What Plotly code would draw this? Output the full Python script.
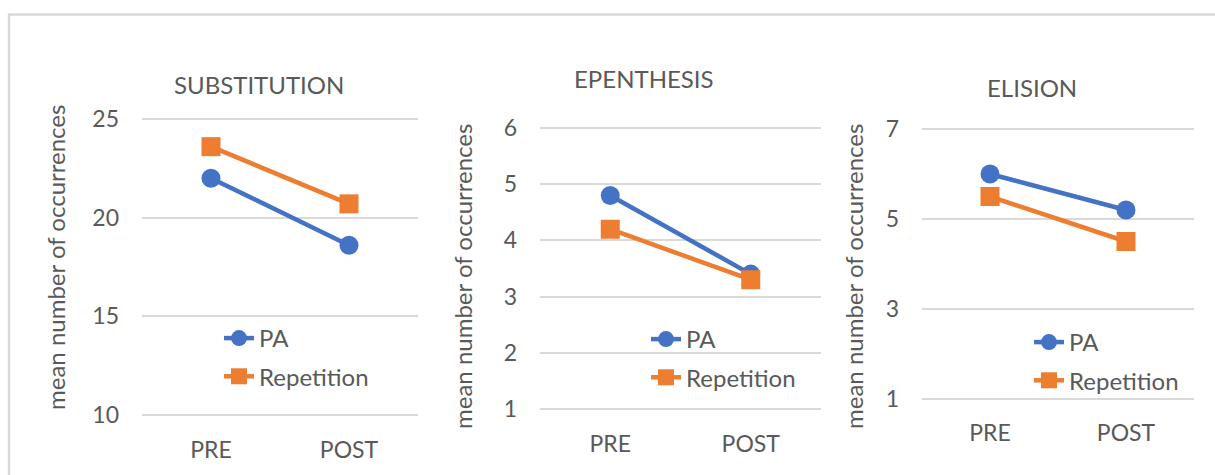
import plotly.graph_objects as go

W, H = 1215, 475

categories = ["PRE", "POST"]
series_names = ["PA", "Repetition"]
panel_titles = ["SUBSTITUTION", "EPENTHESIS", "ELISION"]
y_title = "mean number of occurrences"

subst_pa = [22.0, 18.6]
subst_rep = [23.6, 20.7]
epen_pa = [4.8, 3.4]
epen_rep = [4.2, 3.3]
elis_pa = [6.0, 5.2]
elis_rep = [5.5, 4.5]

subst_ticks = [10, 15, 20, 25]
epen_ticks = [1, 2, 3, 4, 5, 6]
elis_ticks = [1, 3, 5, 7]

BLUE = "#4472C4"
ORANGE = "#ED7D31"
GRID = "#D9D9D9"
TXT = "#595959"
FONT = "Lato, Open Sans, sans-serif"
FS = 24
FS_TICK = 23

def px(x):
    return x / W

def py(y):
    return 1 - y / H

# layout geometry (pixels)
panels = [
    dict(x0=142, x1=418, vtop=25, ptop=119, vbot=10, pbot=415, ticks=subst_ticks,
         data=(subst_pa, subst_rep), title=(259, 84), ytitle=(55, 258), leg=(219, 316)),
    dict(x0=540, x1=821, vtop=6, ptop=128, vbot=1, pbot=409, ticks=epen_ticks,
         data=(epen_pa, epen_rep), title=(644, 79), ytitle=(462, 277), leg=(646, 317)),
    dict(x0=922, x1=1194, vtop=7, ptop=129, vbot=1, pbot=399, ticks=elis_ticks,
         data=(elis_pa, elis_rep), title=(1032, 88), ytitle=(853, 277), leg=(1029, 320)),
]

fig = go.Figure()
annotations = []
PAD = 0.02  # fraction of span padding so edge gridlines show

for i, p in enumerate(panels):
    n = "" if i == 0 else str(i + 1)
    scale = (p["pbot"] - p["ptop"]) / (p["vtop"] - p["vbot"])
    pad = (p["vtop"] - p["vbot"]) * PAD
    rng = [p["vbot"] - pad, p["vtop"] + pad]
    dtop = p["ptop"] - pad * scale
    dbot = p["pbot"] + pad * scale
    legname = "legend" + n
    for vals, name, color, sym, grp in [
        (p["data"][0], series_names[0], BLUE, "circle", "a"),
        (p["data"][1], series_names[1], ORANGE, "square", "b"),
    ]:
        fig.add_trace(go.Scatter(
            x=categories, y=vals, name=name, mode="lines+markers",
            line=dict(color=color, width=4.5),
            marker=dict(color=color, size=19, symbol=sym),
            xaxis="x" + n, yaxis="y" + n, legend=legname, legendgroup=grp,
            hoverinfo="skip",
        ))
    fig.layout["xaxis" + n] = dict(
        domain=[px(p["x0"]), px(p["x1"])], anchor="y" + n, automargin=False,
        type="category", range=[-0.5, 1.5], showgrid=False, zeroline=False,
        showline=False, ticks="", ticklabelstandoff=13,
        tickfont=dict(family=FONT, size=FS_TICK, color=TXT), fixedrange=True,
    )
    fig.layout["yaxis" + n] = dict(
        domain=[py(dbot), py(dtop)], anchor="x" + n, range=rng, automargin=False,
        tickvals=p["ticks"], showgrid=True, gridcolor=GRID, gridwidth=1.5,
        zeroline=False, showline=False, ticks="", ticklabelstandoff=22,
        tickfont=dict(family=FONT, size=FS_TICK, color=TXT), fixedrange=True,
    )
    fig.layout[legname] = dict(
        x=px(p["leg"][0]), y=py(p["leg"][1]), xanchor="left", yanchor="top",
        bgcolor="rgba(0,0,0,0)", font=dict(family=FONT, size=FS, color=TXT),
        tracegroupgap=4, itemsizing="trace",
    )
    annotations.append(dict(
        text=panel_titles[i], x=px(p["title"][0]), y=py(p["title"][1]),
        xref="paper", yref="paper", xanchor="center", yanchor="middle",
        showarrow=False, font=dict(family=FONT, size=FS, color=TXT),
    ))
    annotations.append(dict(
        text=y_title, x=px(p["ytitle"][0]), y=py(p["ytitle"][1]),
        xref="paper", yref="paper", xanchor="center", yanchor="middle",
        textangle=-90, showarrow=False, font=dict(family=FONT, size=FS, color=TXT),
    ))

fig.update_layout(
    template="none",
    width=W, height=H, margin=dict(l=0, r=0, t=0, b=0, pad=0, autoexpand=False),
    paper_bgcolor="white", plot_bgcolor="white",
    showlegend=True, annotations=annotations,
    shapes=[dict(type="rect", xref="paper", yref="paper",
                 x0=px(9), y0=py(14.5), x1=px(1230), y1=py(490),
                 line=dict(color=GRID, width=2.5), layer="below")],
)

fig.write_html("out.html", config=dict(displayModeBar=False))
